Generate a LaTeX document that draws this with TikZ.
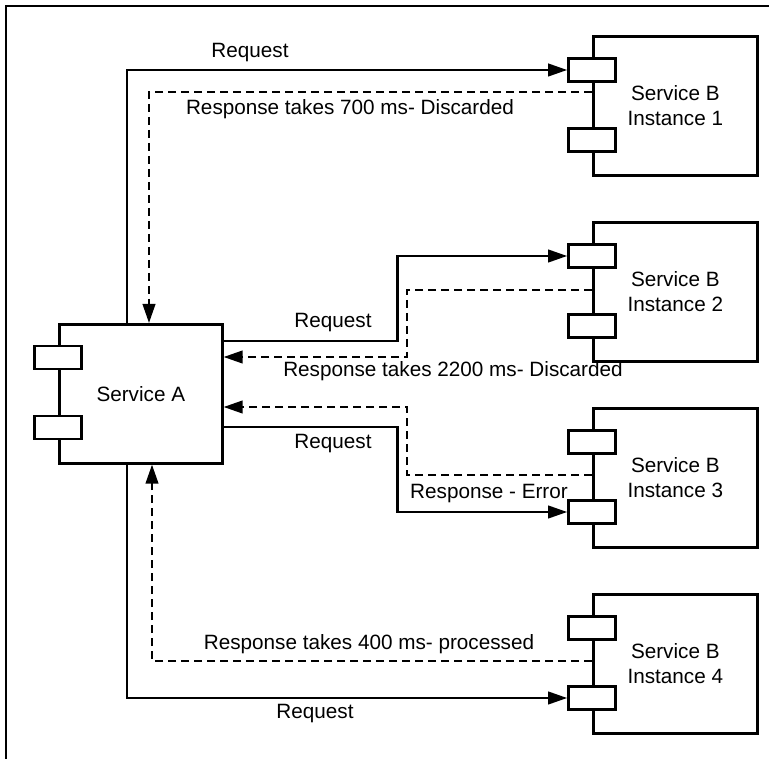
\documentclass[tikz,border=0pt]{standalone}
\usepackage{fontspec}
\setmainfont{Liberation Sans}
\usetikzlibrary{arrows.meta,calc}
\begin{document}
\begin{tikzpicture}[x=1pt,y=-1pt,
  font=\fontsize{20.7pt}{25pt}\selectfont,
  svcbox/.style={draw, line width=2.6pt, fill=white, inner sep=0pt,
    anchor=north west, align=center, minimum height=139pt},
  port/.style={draw, line width=2.6pt, fill=white, inner sep=0pt,
    minimum width=47pt, minimum height=23pt},
  tip/.style={-{Triangle[length=19pt,width=12.5pt]}},
  req/.style={draw, line width=2.4pt, tip},
  resp/.style={draw, line width=2.4pt, tip, dash pattern=on 8pt off 5pt},
  lbl/.style={anchor=base, inner sep=0pt}]
\useasboundingbox (0,0) rectangle (769,759);

% outer frame
\draw[line width=2.4pt] (6,759) -- (6,6) -- (769,6);

% Service A with its two ports
\node[svcbox, minimum width=163pt] (A) at (58,323) {Service A};
\node[port] (ap1) at (58,357.5) {};
\node[port] (ap2) at (58,427.5) {};

% Service B instances with their ports
\foreach \i/\top in {1/35, 2/221, 3/407, 4/593} {
  \node[svcbox, minimum width=164pt] (B\i) at (592,\top) {Service B\\Instance \i};
  \node[port] (b\i p1) at (592,\top+35) {};
  \node[port] (b\i p2) at (592,\top+105) {};
}

% instance 1
\draw[req] ([xshift=69pt]A.north west) |- (b1p1.west);
\draw[resp] ($(B1.north west)+(0,57)$) -| ([xshift=91pt]A.north west);
\node[lbl] (l1) at (250,58) {Request};
\node[lbl] (l2) at (350,115) {Response takes 700 ms- Discarded};

% instance 2
\draw[req] ($(A.north east)+(0,18)$) -- ++(174,0) |- (b2p1.west);
\draw[resp] ($(B2.north west)+(0,69)$) -- ++(-185,0) |- ($(A.north east)+(0,34)$);
\node[lbl] (l3) at (333,328) {Request};
\node[lbl] (l4) at (453,377) {Response takes 2200 ms- Discarded};

% instance 3
\draw[resp] ($(B3.north west)+(0,68)$) -- ++(-185,0) |- ($(A.north east)+(0,84)$);
\draw[req] ($(A.north east)+(0,104)$) -- ++(174,0) |- (b3p2.west);
\node[lbl] (l5) at (333,449) {Request};
\node[lbl] (l6) at (489,498) {Response - Error};

% instance 4
\draw[req] ([xshift=69pt]A.south west) |- (b4p2.west);
\draw[resp] ($(B4.north west)+(0,68)$) -| ([xshift=94pt]A.south west);
\node[lbl] (l7) at (369,649) {Response takes 400 ms- processed};
\node[lbl] (l8) at (315,718) {Request};
\end{tikzpicture}
\end{document}
